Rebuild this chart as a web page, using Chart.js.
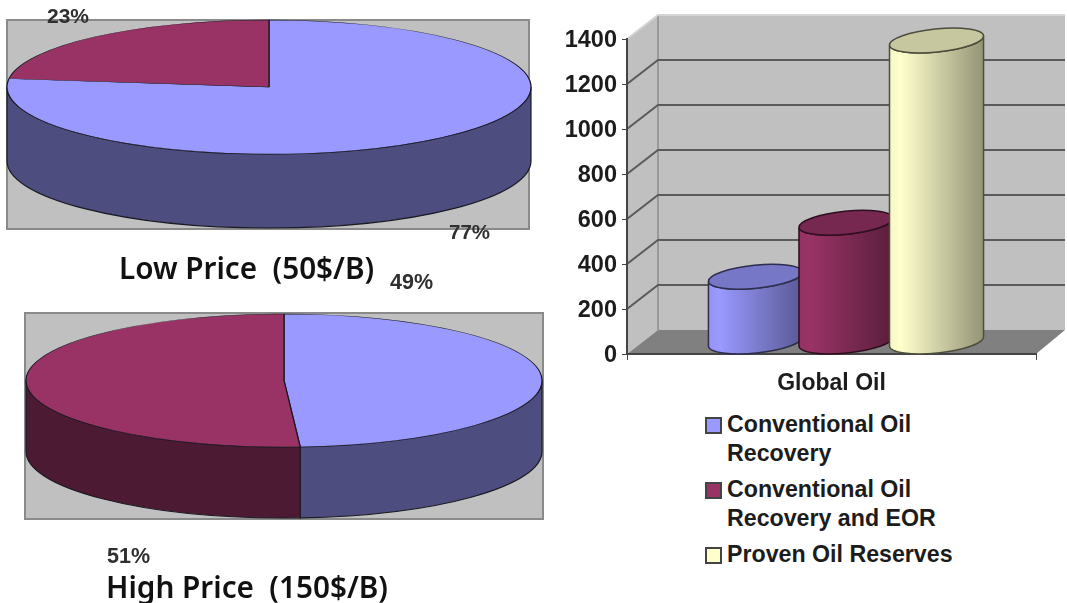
<!DOCTYPE html>
<html>
<head>
<meta charset="utf-8">
<title>Oil recovery and price scenarios</title>
<script src="https://cdn.jsdelivr.net/npm/chart.js@4/dist/chart.umd.js"></script>
<style>
  html, body { margin: 0; padding: 0; background: #fff; width: 1067px; height: 603px; overflow: hidden; }
  canvas { position: absolute; }
  .scenario {
    position: absolute; white-space: pre; color: #111;
    font-family: "Noto Sans", sans-serif; font-weight: 600; font-size: 29.7px; line-height: 36px;
  }
  #legend {
    position: absolute; left: 705px; top: 410px; width: 262px;
    font: bold 23.2px/29px "Liberation Sans", sans-serif; color: #1c1c1c;
  }
  #legend .item { position: relative; padding-left: 22px; margin-bottom: 7px; }
  #legend .swatch {
    position: absolute; left: 0; top: 7px; width: 13px; height: 13px; border: 2px solid #444;
  }
</style>
</head>
<body>
<canvas id="lowPie"></canvas>
<canvas id="highPie"></canvas>
<canvas id="bars"></canvas>
<div class="scenario" style="left:119px;top:250px" id="lowTitle"></div>
<div class="scenario" style="left:106px;top:569px" id="highTitle"></div>
<div id="legend"></div>
<script>
// Share of recovery in each price scenario, percent
const lowPriceShares = [77, 23];
const highPriceShares = [49, 51];
const lowPriceTitle = 'Low Price  (50$/B)';
const highPriceTitle = 'High Price  (150$/B)';

// Global oil volumes by recovery category
const categories = ['Global Oil'];
const conventionalRecovery = [290];
const conventionalWithEor = [530];
const provenReserves = [1340];
const seriesNames = ['Conventional Oil Recovery', 'Conventional Oil Recovery and EOR', 'Proven Oil Reserves'];
const seriesColors = ['#9999ff', '#993366', '#ffffcc'];
const yTickMax = 1400;
const yTickStep = 200;

const FONT = '"Liberation Sans", sans-serif';
Chart.defaults.font.family = FONT;
Chart.defaults.animation = false;

// Multiplies a hex colour's channels; used for shaded cylinder and pie sides
function shade(hex, f) {
  const n = parseInt(hex.slice(1), 16);
  const c = [n >> 16, (n >> 8) & 255, n & 255].map(v => Math.round(v * f));
  return `rgb(${c[0]},${c[1]},${c[2]})`;
}

// Flattens the library's pie into an ellipse and extrudes a side wall beneath it
const tiltedPie = {
  id: 'tiltedPie',
  beforeDraw(chart, args, o) {
    const { ctx } = chart;
    ctx.save();
    ctx.fillStyle = '#c0c0c0';
    ctx.strokeStyle = '#8a8a8a';
    ctx.lineWidth = 2;
    ctx.fillRect(o.plate.x, o.plate.y, o.plate.w, o.plate.h);
    ctx.strokeRect(o.plate.x, o.plate.y, o.plate.w, o.plate.h);
    ctx.restore();
  },
  beforeDatasetsDraw(chart, args, o) {
    const { ctx } = chart;
    const arcs = chart.getDatasetMeta(0).data;
    const cx = arcs[0].x, cy = arcs[0].y, r = arcs[0].outerRadius;
    const ry = r * o.squash;
    ctx.save();
    ctx.lineWidth = 1.2;
    ctx.strokeStyle = '#1a1a22';
    arcs.forEach((arc, i) => {
      const a0 = Math.max(arc.startAngle, 0);
      const a1 = Math.min(arc.endAngle, Math.PI);
      if (a1 <= a0) return;
      ctx.beginPath();
      ctx.ellipse(cx, cy, r, ry, 0, a0, a1);
      ctx.ellipse(cx, cy + o.depth, r, ry, 0, a1, a0, true);
      ctx.closePath();
      ctx.fillStyle = shade(chart.data.datasets[0].backgroundColor[i], 0.5);
      ctx.fill();
      ctx.stroke();
    });
    ctx.restore();
    ctx.save();
    ctx.translate(cx, cy);
    ctx.scale(1, o.squash);
    ctx.translate(-cx, -cy);
  },
  afterDatasetsDraw(chart, args, o) {
    const { ctx } = chart;
    ctx.restore();
    ctx.save();
    ctx.textAlign = 'left';
    ctx.textBaseline = 'middle';
    ctx.fillStyle = '#303030';
    chart.data.datasets[0].data.forEach((v, i) => {
      const p = o.labels[i];
      ctx.font = `bold ${p.size}px ${FONT}`;
      ctx.fillText(v + '%', p.x, p.y);
    });
    ctx.restore();
  }
};

function makePie(id, shares, box, radius, bottomPad, opts) {
  const el = document.getElementById(id);
  el.style.left = box.left + 'px';
  el.style.top = box.top + 'px';
  el.style.width = box.width + 'px';
  el.style.height = box.height + 'px';
  return new Chart(el, {
    type: 'pie',
    data: {
      labels: ['Conventional Oil Recovery', 'Conventional Oil Recovery and EOR'],
      datasets: [{
        data: shares,
        backgroundColor: [seriesColors[0], seriesColors[1]],
        borderColor: '#1a1a22',
        borderWidth: 1.3,
        radius: radius,
        clip: false
      }]
    },
    options: {
      responsive: false,
      layout: { padding: { bottom: bottomPad } },
      plugins: { legend: { display: false }, tooltip: { enabled: false }, tiltedPie: opts }
    },
    plugins: [tiltedPie]
  });
}

function sized(id, w, h) {
  const el = document.getElementById(id);
  el.width = w;
  el.height = h;
}

sized('lowPie', 538, 250);
sized('highPie', 568, 300);

makePie('lowPie', lowPriceShares, { left: 0, top: 0, width: 538, height: 250 }, 262, 76, {
  squash: 67 / 262, depth: 74,
  plate: { x: 7, y: 20, w: 522, h: 209 },
  labels: [{ x: 449, y: 233, size: 20.5 }, { x: 47, y: 17, size: 21 }]
});
makePie('highPie', highPriceShares, { left: 0, top: 270, width: 568, height: 300 }, 258, 79, {
  squash: 66.5 / 258, depth: 71,
  plate: { x: 25, y: 43, w: 518, h: 206 },
  labels: [{ x: 390, y: 13, size: 21.5 }, { x: 107, y: 287, size: 21.5 }]
});

document.getElementById('lowTitle').textContent = lowPriceTitle;
document.getElementById('highTitle').textContent = highPriceTitle;

// Draws the chart's left wall, back wall and floor from the value scale
const DEPTH_LEFT = 31, DEPTH_RIGHT = 29, DEPTH_Y = 24;
const chartBox = {
  id: 'chartBox',
  beforeDraw(chart) {
    const { ctx, chartArea: a, scales: { y } } = chart;
    const lx = a.left + DEPTH_LEFT, rx = a.right + DEPTH_RIGHT, by = DEPTH_Y;
    ctx.save();
    ctx.fillStyle = '#c0c0c0';
    ctx.beginPath();
    ctx.moveTo(a.left, a.top);
    ctx.lineTo(lx, a.top - by);
    ctx.lineTo(rx, a.top - by);
    ctx.lineTo(rx, a.bottom - by);
    ctx.lineTo(lx, a.bottom - by);
    ctx.lineTo(a.left, a.bottom);
    ctx.closePath();
    ctx.fill();
    ctx.fillStyle = '#808080';
    ctx.beginPath();
    ctx.moveTo(a.left, a.bottom);
    ctx.lineTo(lx, a.bottom - by);
    ctx.lineTo(rx, a.bottom - by);
    ctx.lineTo(a.right, a.bottom);
    ctx.closePath();
    ctx.fill();
    ctx.strokeStyle = '#8c8c8c';
    ctx.lineWidth = 1.5;
    ctx.beginPath();
    ctx.moveTo(lx, a.top - by);
    ctx.lineTo(lx, a.bottom - by);
    ctx.stroke();
    y.ticks.forEach(t => {
      if (t.value === 0) return;
      const py = y.getPixelForValue(t.value);
      ctx.strokeStyle = t.value === yTickMax ? '#d4d4d4' : '#5a5a5a';
      ctx.lineWidth = 2;
      ctx.beginPath();
      ctx.moveTo(a.left, py);
      ctx.lineTo(lx, py - by);
      ctx.lineTo(rx, py - by);
      ctx.stroke();
    });
    ctx.restore();
  }
};

// Replaces the flat bars with shaded cylinders standing mid-way across the floor,
// painted left to right so each one overlaps the one before it
const cylinders = {
  id: 'cylinders',
  beforeDatasetDraw() {
    return false;
  },
  afterDatasetsDraw(chart) {
    const { ctx } = chart;
    chart.data.datasets.forEach((ds, index) => {
      const bar = chart.getDatasetMeta(index).data[0];
      const color = ds.backgroundColor;
      const a = bar.width / 2 + 2, b = 11.5, tilt = -0.1;
      const cx = bar.x + 14.5;
      const top = bar.y - DEPTH_Y / 2;
      const base = bar.base - DEPTH_Y / 2;
      const grad = ctx.createLinearGradient(cx - a, 0, cx + a, 0);
      grad.addColorStop(0, shade(color, 0.97));
      grad.addColorStop(0.12, color);
      grad.addColorStop(1, shade(color, 0.58));
      ctx.save();
      ctx.lineWidth = 1.5;
      ctx.strokeStyle = shade(color, 0.3);
      ctx.fillStyle = grad;
      ctx.beginPath();
      ctx.ellipse(cx, base, a, b, tilt, Math.PI, 0, true);
      ctx.ellipse(cx, top, a, b, tilt, 0, Math.PI);
      ctx.closePath();
      ctx.fill();
      ctx.stroke();
      ctx.fillStyle = shade(color, 0.78);
      ctx.beginPath();
      ctx.ellipse(cx, top, a, b, tilt, 0, Math.PI * 2);
      ctx.fill();
      ctx.stroke();
      ctx.restore();
    });
  }
};

sized('bars', 512, 400);
const barsEl = document.getElementById('bars');
barsEl.style.left = '555px';
barsEl.style.top = '0px';
barsEl.style.width = '512px';
barsEl.style.height = '400px';

const seriesValues = [conventionalRecovery, conventionalWithEor, provenReserves];
new Chart(barsEl, {
  type: 'bar',
  data: {
    labels: categories,
    datasets: seriesNames.map((name, i) => ({
      label: name,
      data: seriesValues[i],
      backgroundColor: seriesColors[i],
      barPercentage: 1,
      categoryPercentage: 0.664
    }))
  },
  options: {
    responsive: false,
    layout: { padding: { top: 39, right: 31, left: 0, bottom: 0 } },
    plugins: { legend: { display: false }, tooltip: { enabled: false } },
    scales: {
      y: {
        min: 0,
        max: yTickMax,
        ticks: {
          stepSize: yTickStep,
          padding: 5,
          labelOffset: 2,
          color: '#1c1c1c',
          font: { size: 23.5, weight: 'bold' },
          callback: v => String(v)
        },
        grid: { drawOnChartArea: false, tickLength: 5, color: '#444' },
        border: { color: '#444', width: 2 },
        afterFit(scale) { scale.width = 72; }
      },
      x: {
        ticks: { padding: 10, color: '#1c1c1c', font: { size: 23, weight: 'bold' } },
        grid: { drawOnChartArea: false, tickLength: 6, color: '#444' },
        border: { color: '#444', width: 2 },
        afterFit(scale) { scale.height = 46; }
      }
    }
  },
  plugins: [chartBox, cylinders]
});

// Legend entries share the series colours
const legend = document.getElementById('legend');
seriesNames.forEach((name, i) => {
  const item = document.createElement('div');
  item.className = 'item';
  const swatch = document.createElement('span');
  swatch.className = 'swatch';
  swatch.style.background = seriesColors[i];
  item.appendChild(swatch);
  item.appendChild(document.createTextNode(name));
  legend.appendChild(item);
});
</script>
</body>
</html>
